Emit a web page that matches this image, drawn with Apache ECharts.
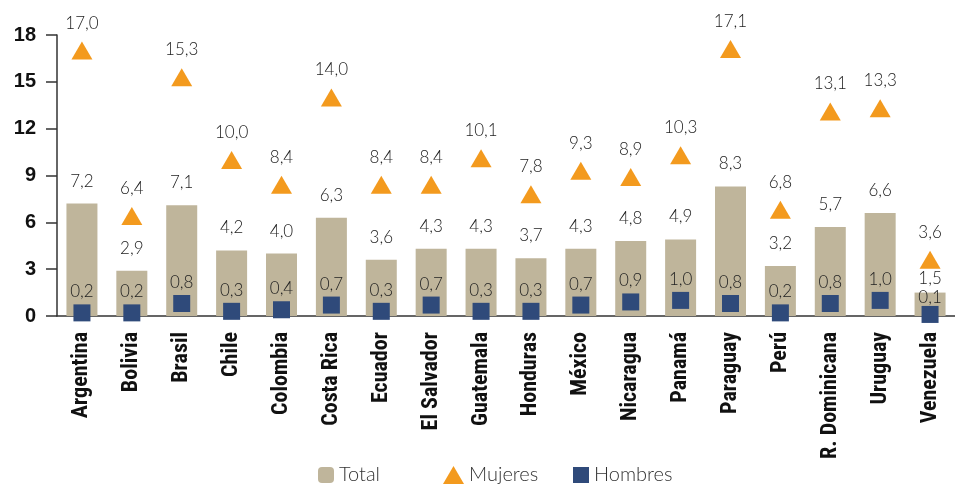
<!DOCTYPE html>
<html style="height: 100%">
    <head>
        <title>Tasa por país</title>
        <meta charset="utf-8">
    </head>
    <body style="height: 100%; margin: 0; background: #fff">
        <div id="container" style="height: 100%"></div>

        <script type="text/javascript" src="https://cdn.jsdelivr.net/npm/echarts@6.0.0/dist/echarts.min.js"></script>
        <script type="text/javascript">
            var paises = ['Argentina', 'Bolivia', 'Brasil', 'Chile', 'Colombia', 'Costa Rica', 'Ecuador',
                'El Salvador', 'Guatemala', 'Honduras', 'México', 'Nicaragua', 'Panamá', 'Paraguay',
                'Perú', 'R. Dominicana', 'Uruguay', 'Venezuela'];
            var total = [7.2, 2.9, 7.1, 4.2, 4.0, 6.3, 3.6, 4.3, 4.3, 3.7, 4.3, 4.8, 4.9, 8.3, 3.2, 5.7, 6.6, 1.5];
            var mujeres = [17.0, 6.4, 15.3, 10.0, 8.4, 14.0, 8.4, 8.4, 10.1, 7.8, 9.3, 8.9, 10.3, 17.1, 6.8, 13.1, 13.3, 3.6];
            var hombres = [0.2, 0.2, 0.8, 0.3, 0.4, 0.7, 0.3, 0.7, 0.3, 0.3, 0.7, 0.9, 1.0, 0.8, 0.2, 0.8, 1.0, 0.1];
            var yTicks = [0, 3, 6, 9, 12, 15, 18];

            var dom = document.getElementById("container");
            var myChart = echarts.init(dom);

            var fmt = function (p) { return p.value.toFixed(1).replace('.', ','); };
            var lblFont = { fontFamily: 'Lato, sans-serif', fontWeight: 300, fontSize: 17, color: '#222' };
            var legText = { fontFamily: 'Lato, sans-serif', fontWeight: 300, fontSize: 20, color: '#333' };

            // Venezuela labels sit tighter in the original
            var totalData = total.map(function (v, i) {
                return i === total.length - 1 ? { value: v, label: { distance: 6 } } : v;
            });
            var hombresData = hombres.map(function (v, i) {
                return i === hombres.length - 1 ? { value: v, label: { distance: 0 } } : v;
            });

            var option = {
                animation: false,
                grid: { left: 57, right: -9, top: 35, bottom: 170 },
                legend: [
                    { data: ['Total'], left: 313, bottom: -4, itemWidth: 16, itemHeight: 16, itemGap: 12, textStyle: legText },
                    { data: [{ name: 'Mujeres', icon: 'triangle' }], left: 438, bottom: -4, itemWidth: 21, itemHeight: 18, textStyle: legText },
                    { data: [{ name: 'Hombres', icon: 'rect' }], left: 568, bottom: -4, itemWidth: 16, itemHeight: 16, textStyle: legText }
                ],
                xAxis: {
                    type: 'category',
                    data: paises,
                    axisLine: { lineStyle: { color: '#333', width: 1.5 } },
                    axisTick: { length: 12, lineStyle: { color: '#333', width: 1.5 },
                        interval: function (i) { return i > 0; } },
                    axisLabel: {
                        rotate: 90, interval: 0, margin: 16,
                        fontFamily: '"Liberation Sans Narrow", "Roboto Condensed", Roboto, sans-serif',
                        fontWeight: 'bold', fontSize: 22, color: '#111'
                    }
                },
                yAxis: {
                    type: 'value',
                    min: yTicks[0], max: yTicks[yTicks.length - 1], interval: 3,
                    splitLine: { show: false },
                    axisLine: { show: true, lineStyle: { color: '#333', width: 1.5 } },
                    axisTick: { show: true, length: 11, lineStyle: { color: '#333', width: 1.5 } },
                    axisLabel: { margin: 21, fontFamily: '"Liberation Sans", Arial, sans-serif', fontWeight: 'bold', fontSize: 20, color: '#111' }
                },
                series: [
                    {
                        name: 'Total', type: 'bar', data: totalData, barWidth: 31,
                        itemStyle: { color: '#bfb59b' },
                        label: Object.assign({ show: true, position: 'top', distance: 14, formatter: fmt }, lblFont)
                    },
                    {
                        name: 'Mujeres', type: 'scatter', data: mujeres,
                        symbol: 'triangle', symbolSize: [21, 18],
                        itemStyle: { color: '#f39a1e', opacity: 1 },
                        label: Object.assign({ show: true, position: 'top', distance: 10, formatter: fmt }, lblFont)
                    },
                    {
                        name: 'Hombres', type: 'scatter', data: hombresData,
                        symbol: 'rect', symbolSize: 17, z: 3,
                        itemStyle: { color: '#2f4a7a', opacity: 1 },
                        label: Object.assign({ show: true, position: 'top', distance: 4, formatter: fmt }, lblFont)
                    }
                ]
            };

            myChart.setOption(option);
            window.onresize = function () {
                myChart.resize();
            };
        </script>
    </body>
</html>
